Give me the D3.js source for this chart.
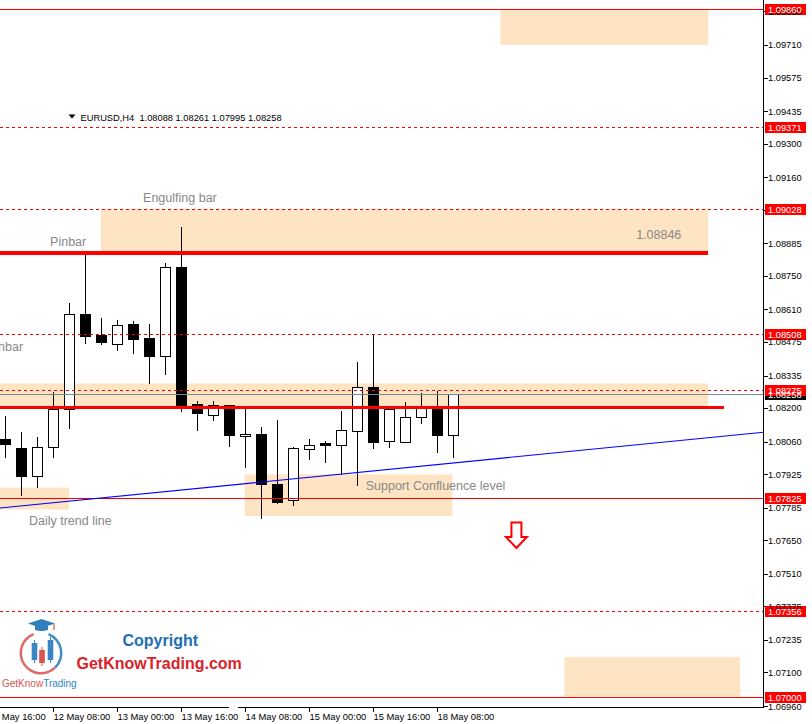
<!DOCTYPE html>
<html><head><meta charset="utf-8">
<script src="https://cdn.jsdelivr.net/npm/d3@7"></script>
<style>body{margin:0;background:#fff}svg{display:block}text{white-space:pre}</style>
</head><body><svg id="c" width="812" height="724"></svg>
<script>
// ---- data ----
const symbol = "EURUSD,H4";
const opens  = [1.08073,1.08032,1.07917,1.08038,1.08195,1.08590,1.08503,1.08465,1.08549,1.08490,1.08417,1.08785,1.08216,1.08169,1.08211,1.08085,1.08094,1.07886,1.07819,1.08031,1.08053,1.08048,1.08106,1.08289,1.08063,1.08060,1.08164,1.08199,1.08088];
const highs  = [1.08170,1.08104,1.08082,1.08271,1.08640,1.08844,1.08578,1.08569,1.08565,1.08553,1.08806,1.08957,1.08232,1.08235,1.08214,1.08199,1.08124,1.08156,1.08041,1.08074,1.08066,1.08191,1.08395,1.08506,1.08194,1.08228,1.08267,1.08277,1.08261];
const lows   = [1.07996,1.07837,1.07871,1.07996,1.08117,1.08471,1.08465,1.08442,1.08429,1.08304,1.08342,1.08188,1.08110,1.08149,1.08042,1.07955,1.07744,1.07805,1.07798,1.07988,1.07975,1.07924,1.07881,1.08034,1.08038,1.08060,1.08138,1.08017,1.07995];
const closes = [1.08052,1.07916,1.08038,1.08195,1.08590,1.08500,1.08475,1.08544,1.08487,1.08417,1.08785,1.08214,1.08179,1.08211,1.08089,1.08094,1.07886,1.07809,1.08035,1.08048,1.08046,1.08107,1.08289,1.08059,1.08194,1.08164,1.08199,1.08089,1.08258];
const timeLabels = ["11 May 16:00","12 May 08:00","13 May 00:00","13 May 16:00","14 May 08:00","15 May 00:00","15 May 16:00","18 May 08:00"];
const timeLabelIdx = [-1,3,7,11,15,19,23,27];
const priceTicks = [1.06960,1.07100,1.07235,1.07375,1.07510,1.07650,1.07785,1.07925,1.08060,1.08200,1.08335,1.08475,1.08610,1.08750,1.08885,1.09025,1.09160,1.09300,1.09435,1.09575,1.09710,1.09850];
const solidLevels  = [1.09860,1.07825,1.07000];
const dashedLevels = [1.09371,1.09028,1.08508,1.08275,1.07356];
const thickLevels  = [1.08846,1.08202];
const thickEndIdx  = [44,45];
const labelLevels  = [1.09860,1.09371,1.09028,1.08508,1.08275,1.07825,1.07356,1.07000];
const bidPrice = 1.08258;
const zoneStart  = [31,6,-2,-2,15,35];
const zoneEnd    = [44,44,44,4,28,46];
const zoneTop    = [1.09860,1.09028,1.08302,1.07869,1.07924,1.07164];
const zoneBottom = [1.09710,1.08846,1.08202,1.07778,1.07751,1.07000];
const trendIdx   = [0,28];
const trendPrice = [1.07786,1.07971];
const noteText  = ["Engulfing bar","Pinbar","Pinbar","Daily trend line","Support Confluence level","1.08846"];
const noteIdx   = [8.64,2.82,-1.13,1.50,22.57,39.49];
const notePrice = [1.09057,1.08875,1.08438,1.07712,1.07858,1.08903];
const arrowIdx = 32.0, arrowPrice = 1.07724;

// ---- scales ----
const W = 763.5, H = 707.5;
const x = d3.scaleLinear().domain([0,28]).range([5,452.5]);
const y = d3.scaleLinear().domain([1.07000,1.09860]).range([696.5,9]);
const px = v => Math.round(x(v)) + 0.5;
const py = v => Math.round(y(v)) + 0.5;
const f5 = d3.format(".5f");

const svg = d3.select("#c");
svg.append("defs").append("clipPath").attr("id","plot").append("rect").attr("x",0).attr("y",0).attr("width",W).attr("height",H);
const plot = svg.append("g").attr("clip-path","url(#plot)");

// zones
plot.selectAll("rect.zone").data(zoneStart.map((s,i)=>i)).enter().append("rect")
  .attr("x", i => x(zoneStart[i])).attr("width", i => x(zoneEnd[i]) - x(zoneStart[i]))
  .attr("y", i => y(zoneTop[i])).attr("height", i => y(zoneBottom[i]) - y(zoneTop[i]))
  .attr("fill","#FFE4C4");

// candles
const idx = d3.range(opens.length);
const cg = plot.append("g").attr("shape-rendering","crispEdges");
cg.selectAll("line").data(idx).enter().append("line")
  .attr("x1", i=>px(i)).attr("x2", i=>px(i))
  .attr("y1", i=>py(highs[i])).attr("y2", i=>py(lows[i]))
  .attr("stroke","#000").attr("stroke-width",1);
cg.selectAll("rect").data(idx).enter().append("rect")
  .attr("x", i=>px(i)-5).attr("width",10)
  .attr("y", i=>py(Math.max(opens[i],closes[i])))
  .attr("height", i=>Math.max(1, Math.round(y(Math.min(opens[i],closes[i]))) - Math.round(y(Math.max(opens[i],closes[i])))))
  .attr("fill", i=> closes[i] < opens[i] ? "#000" : "#fff")
  .attr("stroke","#000").attr("stroke-width",1);

// levels
const lg = plot.append("g").attr("shape-rendering","crispEdges");
lg.selectAll("line.d").data(dashedLevels).enter().append("line")
  .attr("x1",0).attr("x2",W).attr("y1",py).attr("y2",py)
  .attr("stroke","#FF0000").attr("stroke-dasharray","3,3");
lg.selectAll("line.s").data(solidLevels).enter().append("line")
  .attr("x1",0).attr("x2",W).attr("y1",py).attr("y2",py)
  .attr("stroke","#FF0000");
lg.append("line").attr("x1",0).attr("x2",W).attr("y1",py(bidPrice)).attr("y2",py(bidPrice)).attr("stroke","#778899");
lg.selectAll("line.t").data(thickLevels).enter().append("line")
  .attr("x1",0).attr("x2",(d,i)=>x(thickEndIdx[i])).attr("y1",d=>y(d)).attr("y2",d=>y(d))
  .attr("stroke","#FF0000").attr("stroke-width",3.5);

// trend line (ray through the two anchors)
const slope = (trendPrice[1]-trendPrice[0])/(trendIdx[1]-trendIdx[0]);
const tA = x.invert(-2), tB = x.invert(W);
plot.append("line")
  .attr("x1", x(tA)).attr("y1", y(trendPrice[0] + slope*(tA-trendIdx[0])))
  .attr("x2", x(tB)).attr("y2", y(trendPrice[0] + slope*(tB-trendIdx[0])))
  .attr("stroke","#0000FF").attr("stroke-width",1.1);

// notes
plot.selectAll("text.note").data(noteText).enter().append("text")
  .attr("x",(d,i)=>x(noteIdx[i])).attr("y",(d,i)=>y(notePrice[i]))
  .attr("font-family","Liberation Sans, Arial, sans-serif").attr("font-size",12.5)
  .attr("fill","#888888").text(d=>d);

// arrow
const ax = x(arrowIdx), ay = y(arrowPrice);
plot.append("path")
  .attr("d", `M${ax-5},${ay} L${ax+5},${ay} L${ax+5},${ay+14.5} L${ax+10.5},${ay+14.5} L${ax},${ay+25.5} L${ax-10.5},${ay+14.5} L${ax-5},${ay+14.5} Z`)
  .attr("fill","#fff").attr("stroke","#FF0000").attr("stroke-width",2);

// header
const last = opens.length-1;
svg.append("path").attr("d","M68.5,114.5 L75.5,114.5 L72,118.5 Z").attr("fill","#000");
svg.append("text").attr("x",80.5).attr("y",120.5)
  .attr("font-family","Liberation Sans, Arial, sans-serif").attr("font-size",9.3).attr("fill","#000")
  .text(`${symbol}  ${f5(opens[last])} ${f5(highs[last])} ${f5(lows[last])} ${f5(closes[last])}`);

// logo
const logo = svg.append("g");
const arc = d3.arc().innerRadius(19).outerRadius(21.5);
logo.append("path").attr("transform","translate(41,653)").attr("d",arc({startAngle:0.12*Math.PI,endAngle:0.75*Math.PI})).attr("fill","#3d8fc6");
logo.append("path").attr("transform","translate(41,653)").attr("d",arc({startAngle:0.75*Math.PI,endAngle:1.88*Math.PI})).attr("fill","#de6a6a");
logo.append("path").attr("d","M28,623.5 L41.5,619 L55,623.5 L41.5,628 Z").attr("fill","#2f7fb9");
logo.append("path").attr("d","M35,625 L48,625 L48,630 Q41.5,632 35,630 Z").attr("fill","#2f7fb9");
logo.append("line").attr("x1",54).attr("x2",54).attr("y1",623.5).attr("y2",630).attr("stroke","#d9534f").attr("stroke-width",1.2);
[[34.5,640,663,643,660,"#3a85c4"],[42,647,666,650,663,"#d9534f"],[50.5,637,663,640,660,"#3a85c4"]].forEach(c=>{
  logo.append("line").attr("x1",c[0]).attr("x2",c[0]).attr("y1",c[1]).attr("y2",c[2]).attr("stroke",c[5]).attr("stroke-width",1);
  logo.append("rect").attr("x",c[0]-2.8).attr("width",5.6).attr("y",c[3]).attr("height",c[4]-c[3]).attr("fill",c[5]);
});
const lt = logo.append("text").attr("x",2).attr("y",686.5).attr("font-family","Liberation Sans, Arial, sans-serif").attr("font-size",10);
lt.append("tspan").attr("fill","#d9534f").text("GetKnow");
lt.append("tspan").attr("fill","#2e86c1").text("Trading");
svg.append("text").attr("x",122.5).attr("y",646).attr("font-family","Liberation Sans, Arial, sans-serif").attr("font-size",16).attr("font-weight","bold").attr("fill","#1c6fb0").text("Copyright");
svg.append("text").attr("x",76.5).attr("y",668.5).attr("font-family","Liberation Sans, Arial, sans-serif").attr("font-size",16).attr("font-weight","bold").attr("fill","#d8232a").text("GetKnowTrading.com");

// axes frame
const ag = svg.append("g").attr("shape-rendering","crispEdges");
ag.append("line").attr("x1",W).attr("x2",W).attr("y1",0).attr("y2",H).attr("stroke","#000");
ag.append("line").attr("x1",0).attr("x2",W).attr("y1",H).attr("y2",H).attr("stroke","#000");
// small break in the time axis line, as in the terminal
ag.append("rect").attr("x",px(11)+47).attr("y",H-1).attr("width",9).attr("height",2).attr("fill","#fff");

// right axis ticks + labels (labels fully covered by a level label are not drawn)
ag.selectAll("line.yt").data(priceTicks).enter().append("line")
  .attr("x1",W).attr("x2",W+4).attr("y1",py).attr("y2",py).attr("stroke","#000");
const visibleTicks = priceTicks.filter(t => !labelLevels.some(l => Math.abs(y(l)-y(t)) < 1.5));
svg.selectAll("text.yl").data(visibleTicks).enter().append("text")
  .attr("x",768).attr("y",d=>y(d)+3.4)
  .attr("font-family","Liberation Sans, Arial, sans-serif").attr("font-size",9.3).attr("fill","#000").text(f5);

// bottom axis ticks + labels
ag.selectAll("line.xt").data(timeLabelIdx).enter().append("line")
  .attr("x1",d=>px(d)).attr("x2",d=>px(d)).attr("y1",H).attr("y2",H+4).attr("stroke","#000");
svg.selectAll("text.xl").data(timeLabels).enter().append("text")
  .attr("x",(d,i)=>px(timeLabelIdx[i])).attr("y",720)
  .attr("font-family","Liberation Sans, Arial, sans-serif").attr("font-size",9.4).attr("fill","#000").text(d=>d);

// price labels
function priceLabel(v, bg){
  const yy = Math.round(y(v));
  ag.append("rect").attr("x",765).attr("y",yy-5).attr("width",41).attr("height",11).attr("fill",bg);
  svg.append("text").attr("x",768).attr("y",yy+3.6).attr("font-family","Liberation Sans, Arial, sans-serif")
    .attr("font-size",9.3).attr("fill","#fff").text(f5(v));
}
priceLabel(bidPrice, "#000");
labelLevels.forEach(v => priceLabel(v, "#FF0000"));
</script></body></html>
